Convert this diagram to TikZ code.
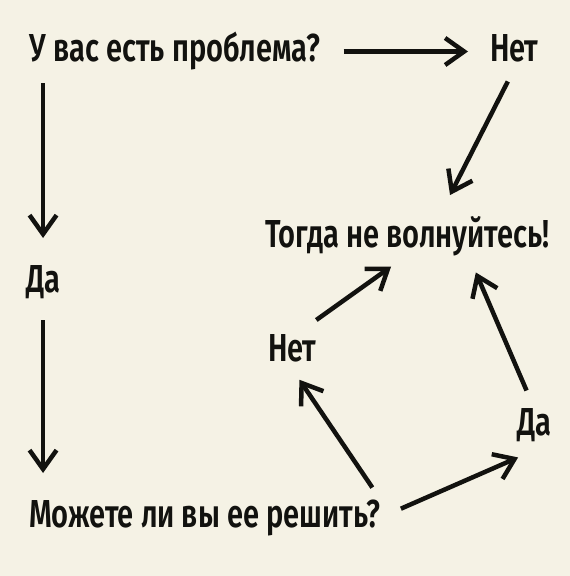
\documentclass[tikz,border=0pt]{standalone}
\usepackage{fontspec}
\setmainfont{Fira Sans}[UprightFont=* SemiBold, FakeStretch=0.745]
\usetikzlibrary{arrows.meta,calc}

\newlength{\du}
\setlength{\du}{1pt}

\definecolor{dialinecolor}{rgb}{0.070000, 0.070000, 0.060000}
\definecolor{diafillcolor}{rgb}{0.961000, 0.949000, 0.898000}

\tikzset{
  label text/.style={anchor=base west, inner sep=0pt, outer sep=0pt,
    text height=27pt, text depth=8pt, color=dialinecolor,
    font=\fontsize{39}{44}\selectfont},
  flow arrow/.style={draw=dialinecolor, line width=4.5pt,
    -{Straight Barb[length=19pt,width=27pt]}},
}

\begin{document}
\begin{tikzpicture}[x=1\du,y=-1\du]
\fill[diafillcolor] (0,0) rectangle (570,576);
\useasboundingbox (0,0) rectangle (570,576);
% setfont left to latex
\node[label text] (problem) at (30,61) {У вас есть проблема?};
\node[label text] (notop) at (490,61) {Нет};
\node[label text] (yesleft) at (26,292) {Да};
\node[label text] (cansolve) at (29,527) {Можете ли вы ее решить?};
\node[label text] (dontworry) at (265,247) {Тогда не волнуйтесь!};
\node[label text] (nomid) at (268,361) {Нет};
\node[label text] (yesright) at (517,435) {Да};
% left column
\draw[flow arrow, shorten <=23pt, shorten >=22pt] (problem.east) -- (notop.west);
\draw[flow arrow, shorten <=14pt, shorten >=27pt] (yesleft |- problem.south) -- (yesleft.north);
\draw[flow arrow, shorten <=20pt, shorten >=27pt] (yesleft.south) -- (yesleft |- cansolve.north);
% right side
\draw[flow arrow, shorten <=14pt, shorten >=28pt] (notop.south) -- ($(dontworry.north)+(30,0)$);
\draw[flow arrow, shorten >=20pt] ($(nomid.north east)+(0,-14)$) -- (dontworry.south);
\draw[flow arrow, shorten <=19pt, shorten >=19pt] (yesright.north) -- ($(dontworry.south)+(61,0)$);
\draw[flow arrow, shorten <=15pt, shorten >=13pt] (cansolve.north east) -- (nomid.south);
\draw[flow arrow, shorten <=22pt, shorten >=36pt] (cansolve.east) -- (yesright.south east);
\end{tikzpicture}
\end{document}
